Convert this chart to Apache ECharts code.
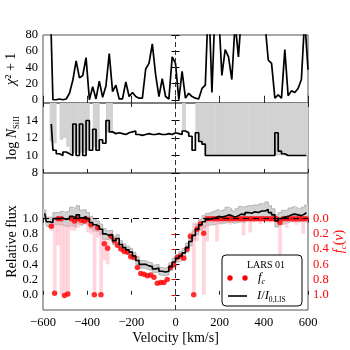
<!DOCTYPE html>
<html>
<head>
<meta charset="utf-8">
<title>LARS 01</title>
<script src="https://cdn.jsdelivr.net/npm/echarts@6/dist/echarts.min.js"></script>
<style>
  html, body { margin: 0; padding: 0; background: #fff; }
  #chart { width: 350px; height: 350px; }
</style>
</head>
<body>
<div id="chart"></div>
<script>
// chi^2 + 1 of the fit (top panel), one value every 15 km/s
var velChi = [-600,-585,-570,-555,-540,-525,-510,-495,-480,-465,
  -450,-435,-420,-405,-390,-375,-360,-345,-330,-315,
  -300,-285,-270,-255,-240,-225,-210,-195,-180,-165,
  -150,-135,-120,-105,-90,-75,-60,-45,-30,-15,
  0,15,30,45,60,75,90,105,120,135,
  150,165,180,195,210,225,240,255,270,285,
  300,315,330,345,360,375,390,405,420,435,
  450,465,480,495,510,525,540,555,570,585,
  600];
var chiSq = [300,300,150,0,0,1,0,1,8,24,
  48,27,30,52,0,16,1,23,3,17,
  57,10,18,1,1,22,4,9,4,2,
  2,38,45,69,31,4,26,4,1,53,
  45,0,35,2,8,4,2,1,14,18,
  130,9,120,110,30,62,53,25,95,53,
  110,150,150,150,150,150,150,95,49,45,
  2,6,2,62,5,11,9,14,25,100,
  37];

// velocity bin centres of the spectrum (15 km/s bins)
var velocity = [-592.5,-577.5,-562.5,-547.5,-532.5,-517.5,-502.5,-487.5,-472.5,-457.5,
  -442.5,-427.5,-412.5,-397.5,-382.5,-367.5,-352.5,-337.5,-322.5,-307.5,
  -292.5,-277.5,-262.5,-247.5,-232.5,-217.5,-202.5,-187.5,-172.5,-157.5,
  -142.5,-127.5,-112.5,-97.5,-82.5,-67.5,-52.5,-37.5,-22.5,-7.5,
  7.5,22.5,37.5,52.5,67.5,82.5,97.5,112.5,127.5,142.5,
  157.5,172.5,187.5,202.5,217.5,232.5,247.5,262.5,277.5,292.5,
  307.5,322.5,337.5,352.5,367.5,382.5,397.5,412.5,427.5,442.5,
  457.5,472.5,487.5,502.5,517.5,532.5,547.5,562.5,577.5,592.5];

// log N(SiII) per bin and its allowed range (grey)
var logN = [null,null,13.6,10.6,10.2,10.0,10.4,10.2,10.0,13.6,
  10.0,13.6,10.0,14.0,10.6,13.0,10.6,11.8,11.4,14.0,
  12.7,12.5,12.6,12.5,12.4,12.6,12.7,12.8,12.4,12.3,
  12.4,12.5,12.4,12.4,12.5,12.4,12.4,12.5,12.4,12.6,
  12.5,12.4,12.8,12.6,12.2,10.6,12.6,11.6,11.3,10.0,
  10.0,10.0,10.0,10.0,10.0,10.0,10.0,10.0,10.0,10.0,
  10.0,10.0,10.0,10.0,10.0,10.0,10.0,10.0,10.0,10.0,
  12.6,10.5,10.2,10.0,10.0,10.0,10.0,10.0,10.0,10.0];
var logNLo = [null,null,11.6,11.4,null,11.8,12.0,11.0,10.3,10.3,
  10.3,10.3,10.3,10.5,null,11.0,10.8,null,null,12.6,
  12.7,null,null,null,null,null,null,null,null,null,
  null,null,null,null,null,null,null,null,null,null,
  null,null,12.8,null,null,null,12.6,11.6,11.3,10.0,
  10.0,10.0,10.0,10.0,10.0,10.0,10.0,10.0,10.0,10.0,
  10.0,10.0,10.0,10.0,10.0,10.0,10.0,10.0,10.0,10.0,
  10.0,10.0,10.0,10.0,10.0,10.0,10.0,10.0,10.0,10.0];
var logNHi = [null,null,17,17,null,17,17,17,17,17,
  17,17,17,17,null,17,17,null,null,17,
  17,null,null,null,null,null,null,null,null,null,
  null,null,null,null,null,null,null,null,null,null,
  null,null,17,null,null,null,17,17,17,17,
  17,17,17,17,17,17,17,17,17,17,
  17,17,17,17,17,17,17,17,17,17,
  17,17,17,17,17,17,17,17,17,17];

// relative flux I/I0,LIS and its error
var flux = [1.07,0.96,0.95,1.00,1.00,1.01,0.99,1.00,1.03,1.01,
  1.05,1.01,1.03,1.00,0.95,0.92,0.90,0.86,0.80,0.78,
  0.79,0.71,0.74,0.66,0.62,0.59,0.56,0.51,0.45,0.40,
  0.40,0.38,0.37,0.34,0.35,0.31,0.30,0.31,0.37,0.43,
  0.48,0.51,0.55,0.62,0.70,0.78,0.86,0.92,0.96,0.99,
  1.00,1.01,1.03,1.02,1.03,1.05,1.04,1.02,1.04,1.06,
  1.05,1.08,1.07,1.09,1.08,1.10,1.10,1.12,1.08,1.05,
  0.97,1.00,1.02,1.03,1.05,1.06,1.05,1.04,1.06,1.08];
var fluxErr = [0.05,0.06,0.07,0.08,0.08,0.09,0.09,0.10,0.12,0.12,
  0.12,0.10,0.09,0.08,0.08,0.08,0.07,0.07,0.07,0.06,
  0.06,0.05,0.05,0.05,0.05,0.05,0.05,0.05,0.05,0.05,
  0.05,0.05,0.05,0.05,0.05,0.05,0.05,0.05,0.05,0.05,
  0.05,0.06,0.06,0.06,0.06,0.06,0.07,0.07,0.08,0.08,
  0.08,0.09,0.09,0.08,0.09,0.10,0.09,0.08,0.09,0.10,
  0.10,0.09,0.10,0.09,0.10,0.10,0.09,0.10,0.09,0.08,
  0.08,0.08,0.09,0.08,0.09,0.10,0.09,0.08,0.09,0.10];

// covering fraction f_c(v) and its range (pink)
var fc = [null,null,0.10,0.98,0.00,0.00,1.01,0.99,0.00,0.03,
  0.00,0.02,0.03,0.01,0.08,1.00,0.12,1.00,0.33,0.39,
  0.23,0.29,0.35,0.40,0.43,0.44,0.50,0.51,0.64,0.72,
  0.73,0.75,0.74,0.77,0.85,0.84,0.84,0.80,0.64,0.61,
  0.51,0.49,0.52,0.40,0.23,1.00,0.14,0.07,0.19,0.00,
  0,0,0,0,0,0,0,0,0,0,
  0,0,0,0,0,0,0,0,0,0,
  0,0.05,0,0,0,0,0,0,0,0];
var fcLo = [null,null,0.05,0.04,0.00,0.00,0.08,0.05,0.00,0.00,
  0.00,0.00,0.00,0.00,0.03,0.12,0.06,0.15,0.27,0.30,
  0.21,0.27,0.33,0.38,0.41,0.42,0.48,0.49,0.62,0.70,
  0.71,0.73,0.72,0.75,0.83,0.82,0.82,0.78,0.62,0.59,
  0.49,0.47,0.50,0.36,0.18,0.05,0.08,0.03,0.10,0.00,
  0,0,0,0,0,0,0,0,0,0,
  0,0,0,0,0,0,0,0,0,0,
  0,0,0,0,0,0,0,0,0,0];
var fcHi = [null,null,0.16,1.00,0.35,1.00,1.02,1.00,0.15,0.16,
  0.12,0.08,0.08,0.18,0.20,1.00,0.25,1.00,0.55,0.60,
  0.25,0.31,0.37,0.42,0.45,0.46,0.52,0.53,0.66,0.74,
  0.75,0.77,0.76,0.79,0.87,0.86,0.86,0.82,0.66,0.63,
  0.53,0.51,0.54,0.44,0.30,1.00,0.30,0.15,1.00,0.30,
  0.03,0.06,0.30,0.08,0.03,0.05,0.08,0.03,0.03,0.05,
  0.22,0.03,0.18,0.05,0.03,0.07,0.03,0.03,0.05,0.03,
  0.06,1.00,0.06,0.12,0.03,0.05,0.08,0.03,0.20,0.05];

// tick positions
var chiTicks = [0, 20, 40, 60, 80];
var logNTicks = [8, 10, 12, 14];
var fluxTicks = [0, 0.2, 0.4, 0.6, 0.8, 1.0];
var fcTicks = [0, 0.2, 0.4, 0.6, 0.8, 1.0];

var FONT = '"Liberation Serif", "DejaVu Serif", serif';
var FRAME = '#555';
var binHalf = 7.5;

function pairs(xs, ys) {
  var out = [];
  for (var i = 0; i < xs.length; i++) {
    if (ys[i] !== null) out.push([xs[i], ys[i]]);
  }
  return out;
}
function triples(xs, lo, hi) {
  var out = [];
  for (var i = 0; i < xs.length; i++) {
    if (lo[i] !== null && hi[i] !== null) out.push([xs[i], lo[i], hi[i]]);
  }
  return out;
}
var fluxLo = flux.map(function (f, i) { return +(f - fluxErr[i]).toFixed(3); });
var fluxHi = flux.map(function (f, i) { return +(f + fluxErr[i]).toFixed(3); });

// one rectangle per bin, clipped to the panel
function bandRender(fill) {
  return function (params, api) {
    var v = api.value(0);
    var p1 = api.coord([v - binHalf, api.value(1)]);
    var p2 = api.coord([v + binHalf, api.value(2)]);
    var cs = params.coordSys;
    var shape = echarts.graphic.clipRectByRect({
      x: p1[0], y: Math.min(p1[1], p2[1]),
      width: p2[0] - p1[0] + 0.4, height: Math.abs(p2[1] - p1[1])
    }, { x: cs.x, y: cs.y, width: cs.width, height: cs.height });
    if (!shape) return null;
    return { type: 'rect', shape: shape, style: { fill: fill } };
  };
}

function fmtVel(v) {
  return v < 0 ? '\u2212' + Math.abs(v) : String(v);
}

// grid: 0 = chi^2 panel, 1 = log N panel, 2 = flux panel
function xAx(grid, pos, labels) {
  return {
    type: 'value', gridIndex: grid, position: pos,
    min: -600, max: 600, interval: 200,
    axisLine: { show: false }, splitLine: { show: false },
    axisTick: { show: true, inside: true, length: 4, lineStyle: { color: '#222' } },
    axisLabel: { show: labels, fontFamily: FONT, fontSize: 12.5, color: '#000', margin: 6, formatter: fmtVel }
  };
}
function yAx(grid, pos, min, max, ticks, labels, color, fmt) {
  return {
    type: 'value', gridIndex: grid, position: pos, min: min, max: max,
    axisLine: { show: false }, splitLine: { show: false },
    axisTick: { show: true, inside: true, length: 4, customValues: ticks, lineStyle: { color: color } },
    axisLabel: { show: labels, customValues: ticks, fontFamily: FONT, fontSize: 12.5, color: color, margin: 5, formatter: fmt }
  };
}

function setName(ax, name, gap, style) {
  ax.name = name;
  ax.nameLocation = 'middle';
  ax.nameGap = gap;
  ax.nameRotate = 90;
  ax.nameMoveOverlap = false;
  ax.nameTextStyle = style;
}

var yChi = yAx(0, 'left', -4, 80, chiTicks, true, '#000');
setName(yChi, '{g|\u03c7}{r|\u00b2 + 1}', 24, { fontFamily: FONT, fontSize: 14, color: '#000', rich: {
  g: { fontFamily: FONT, fontSize: 15, fontStyle: 'italic', color: '#000' },
  r: { fontFamily: FONT, fontSize: 14, color: '#000' } } });

var yLogN = yAx(1, 'left', 8, 16, logNTicks, true, '#000');
setName(yLogN, '{r|log }{i|N}{s|SiII}', 22, { fontFamily: FONT, fontSize: 14, color: '#000', rich: {
  r: { fontFamily: FONT, fontSize: 14, lineHeight: 18, color: '#000' },
  i: { fontFamily: FONT, fontSize: 14, lineHeight: 18, fontStyle: 'italic', color: '#000' },
  s: { fontFamily: FONT, fontSize: 8.5, lineHeight: 9, verticalAlign: 'bottom', color: '#000' } } });

var yFlux = yAx(2, 'left', -0.2, 1.6, fluxTicks, true, '#000', function (v) { return v.toFixed(1); });
setName(yFlux, 'Relative flux', 24, { fontFamily: FONT, fontSize: 14, color: '#000' });

var yFc = yAx(2, 'right', -0.6, 1.2, fcTicks, true, '#ff0000', function (v) { return v.toFixed(1); });
yFc.inverse = true;
setName(yFc, '{i|f}{s|c}{r|(}{i|v}{r|)}', 22, { fontFamily: FONT, fontSize: 14, color: '#ff0000', rich: {
  r: { fontFamily: FONT, fontSize: 14, lineHeight: 18, color: '#ff0000' },
  i: { fontFamily: FONT, fontSize: 14, lineHeight: 18, fontStyle: 'italic', color: '#ff0000' },
  s: { fontFamily: FONT, fontSize: 9, lineHeight: 9, verticalAlign: 'bottom', fontStyle: 'italic', color: '#ff0000' } } });

var xVel = xAx(2, 'bottom', true);
xVel.name = 'Velocity [km/s]';
xVel.nameLocation = 'middle'; xVel.nameGap = 21; xVel.nameMoveOverlap = false;
xVel.nameTextStyle = { fontFamily: FONT, fontSize: 14, color: '#000' };

var zeroLine = {
  silent: true, symbol: ['none', 'none'], label: { show: false },
  lineStyle: { type: [5, 3], color: '#333', width: 1 },
  data: [{ xAxis: 0 }]
};

function gridBox(top, height) {
  return { left: 43, right: 42, top: top, height: height, outerBoundsMode: 'none',
    show: true, borderColor: FRAME, borderWidth: 1 };
}

var option = {
  animation: false,
  backgroundColor: '#fff',
  textStyle: { fontFamily: FONT },
  grid: [gridBox(35, 68), gridBox(103, 70), gridBox(173, 137)],
  // xAxis: 0/1 chi panel, 2/3 log N panel, 4/5 flux panel
  xAxis: [
    xAx(0, 'bottom', false), xAx(0, 'top', false),
    xAx(1, 'bottom', false), xAx(1, 'top', false),
    xVel, xAx(2, 'top', false)
  ],
  // yAxis: 0/1 chi panel, 2/3 log N panel, 4 flux, 5 f_c
  yAxis: [
    yChi, yAx(0, 'right', -4, 80, chiTicks, false, '#000'),
    yLogN, yAx(1, 'right', 8, 16, logNTicks, false, '#000'),
    yFlux, yFc
  ],
  series: [
    // top: chi^2 + 1
    {
      type: 'line', xAxisIndex: 0, yAxisIndex: 0, data: pairs(velChi, chiSq),
      showSymbol: false, clip: true, z: 3,
      lineStyle: { color: '#000', width: 1.7 },
      markLine: zeroLine
    },
    // middle: log N
    {
      type: 'custom', xAxisIndex: 2, yAxisIndex: 2, data: triples(velocity, logNLo, logNHi),
      encode: { x: 0, y: [1, 2] }, renderItem: bandRender('#d2d2d2'), silent: true, z: 1
    },
    {
      type: 'line', xAxisIndex: 2, yAxisIndex: 2, data: pairs(velocity, logN), step: 'middle',
      showSymbol: false, clip: true, z: 3,
      lineStyle: { color: '#000', width: 1.7 },
      markLine: zeroLine
    },
    // bottom: flux band, f_c band, f_c points, flux
    {
      type: 'custom', xAxisIndex: 4, yAxisIndex: 4, data: triples(velocity, fluxLo, fluxHi),
      encode: { x: 0, y: [1, 2] }, renderItem: bandRender('#d2d2d2'), silent: true, z: 1
    },
    {
      type: 'line', xAxisIndex: 4, yAxisIndex: 4, data: pairs(velocity, fluxHi), step: 'middle',
      showSymbol: false, silent: true, z: 1, lineStyle: { color: '#a8a8a8', width: 0.8 }
    },
    {
      type: 'line', xAxisIndex: 4, yAxisIndex: 4, data: pairs(velocity, fluxLo), step: 'middle',
      showSymbol: false, silent: true, z: 1, lineStyle: { color: '#a8a8a8', width: 0.8 }
    },
    {
      type: 'custom', xAxisIndex: 4, yAxisIndex: 5, data: triples(velocity, fcLo, fcHi),
      encode: { x: 0, y: [1, 2] }, renderItem: bandRender('rgba(255,165,182,0.45)'), silent: true, z: 2
    },
    {
      type: 'scatter', xAxisIndex: 4, yAxisIndex: 5, data: pairs(velocity, fc),
      symbol: 'circle', symbolSize: 5.5, itemStyle: { color: '#ff0000' }, z: 4
    },
    {
      type: 'line', xAxisIndex: 4, yAxisIndex: 4, data: pairs(velocity, flux), step: 'middle',
      showSymbol: false, clip: true, z: 5,
      lineStyle: { color: '#000', width: 1.6 },
      markLine: {
        silent: true, symbol: ['none', 'none'], label: { show: false },
        data: [
          { xAxis: 0, lineStyle: { type: [5, 3], color: '#333', width: 1 } },
          { yAxis: 1, lineStyle: { type: [6, 4], color: '#000', width: 1.1 } }
        ]
      }
    }
  ],
  graphic: [
    { type: 'rect', z: 100, shape: { x: 222, y: 255, width: 80, height: 51, r: 4 },
      style: { fill: '#fff', stroke: '#000', lineWidth: 1 } },
    { type: 'text', z: 101, x: 266, y: 265,
      style: { text: 'LARS 01', font: '10px "Liberation Serif"', fill: '#000', align: 'center', verticalAlign: 'middle' } },
    { type: 'circle', z: 101, shape: { cx: 230, cy: 278, r: 2.7 }, style: { fill: '#ff0000' } },
    { type: 'circle', z: 101, shape: { cx: 245, cy: 278, r: 2.7 }, style: { fill: '#ff0000' } },
    { type: 'text', z: 101, x: 258, y: 278,
      style: { text: '{i|f}{s|c}', verticalAlign: 'middle', rich: {
        i: { fontFamily: FONT, fontSize: 13, fontStyle: 'italic', lineHeight: 16, fill: '#000' },
        s: { fontFamily: FONT, fontSize: 8, fontStyle: 'italic', lineHeight: 8, verticalAlign: 'bottom', fill: '#000' } } } },
    { type: 'line', z: 101, shape: { x1: 228, y1: 296, x2: 247, y2: 296 }, style: { stroke: '#000', lineWidth: 1.6 } },
    { type: 'text', z: 101, x: 257, y: 296,
      style: { text: '{i|I}{r|/}{i|I}{s|0,LIS}', verticalAlign: 'middle', rich: {
        i: { fontFamily: FONT, fontSize: 12.5, fontStyle: 'italic', lineHeight: 16, fill: '#000' },
        r: { fontFamily: FONT, fontSize: 12.5, lineHeight: 16, fill: '#000' },
        s: { fontFamily: FONT, fontSize: 7.5, lineHeight: 8, verticalAlign: 'bottom', fill: '#000' } } } }
  ]
};

var chart = echarts.init(document.getElementById('chart'));
chart.setOption(option);
</script>
</body>
</html>
